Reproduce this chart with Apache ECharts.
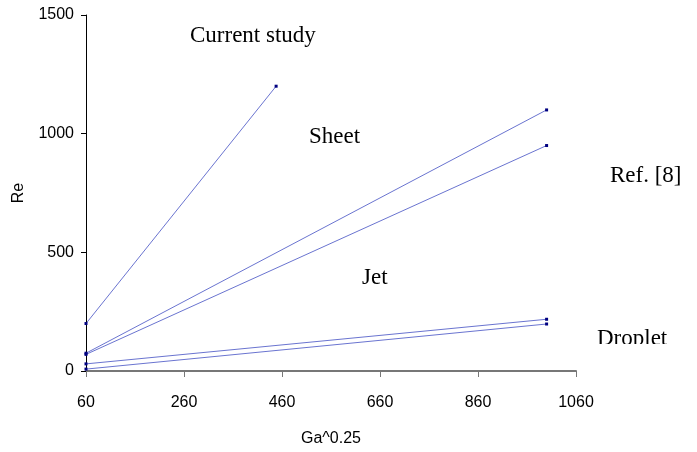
<!DOCTYPE html>
<html>
<head>
<meta charset="utf-8">
<script src="https://cdn.jsdelivr.net/npm/echarts@6/dist/echarts.min.js"></script>
<style>
  html, body { margin: 0; padding: 0; background: #fff; }
  #chart { width: 697px; height: 452px; }
</style>
</head>
<body>
<div id="chart"></div>
<script>
// Ga^0.25 end points of each line
var gaCurrent = [60, 448];
var gaRef = [60, 1000];

// Re values at those points
var reCurrent = [200, 1200];
var reSheetUpper = [75, 1100];
var reSheetLower = [70, 950];
var reDropUpper = [30, 218];
var reDropLower = [8, 198];

var xTicks = [60, 260, 460, 660, 860, 1060];
var yTicks = [0, 500, 1000, 1500];

function pairs(xs, ys) {
    var out = [];
    for (var i = 0; i < xs.length; i++) out.push([xs[i], ys[i]]);
    return out;
}

function lineSeries(xs, ys) {
    return {
        type: 'line',
        data: pairs(xs, ys),
        symbol: 'rect',
        symbolSize: 3,
        showSymbol: true,
        lineStyle: { color: '#6a74d0', width: 1 },
        itemStyle: { color: '#000080' },
        animation: false
    };
}

var serif = '"Liberation Serif", "DejaVu Serif", serif';
var sans = '"Liberation Sans", Arial, sans-serif';
var plain = function (v) { return String(v); };

var chart = echarts.init(document.getElementById('chart'));
chart.setOption({
    backgroundColor: '#fff',
    grid: { left: 86, right: 121, top: 15, bottom: 80 },
    xAxis: {
        type: 'value',
        min: xTicks[0],
        max: xTicks[xTicks.length - 1],
        interval: 200,
        name: 'Ga^0.25',
        nameLocation: 'middle',
        nameGap: 60,
        nameTextStyle: { fontFamily: sans, fontSize: 16, color: '#000' },
        axisLine: { onZero: false, lineStyle: { color: '#777', width: 2 } },
        axisTick: { show: true, length: 6, lineStyle: { color: '#777' } },
        axisLabel: { margin: 24, fontFamily: sans, fontSize: 16, color: '#000', formatter: plain },
        splitLine: { show: false }
    },
    yAxis: {
        type: 'value',
        min: yTicks[0],
        max: yTicks[yTicks.length - 1],
        interval: 500,
        name: 'Re',
        nameLocation: 'middle',
        nameGap: 59,
        nameRotate: 90,
        nameTextStyle: { fontFamily: sans, fontSize: 16, color: '#000' },
        axisLine: { show: true, lineStyle: { color: '#000', width: 1 } },
        axisTick: { show: true, length: 5, lineStyle: { color: '#000' } },
        axisLabel: { margin: 12, fontFamily: sans, fontSize: 16, color: '#000', formatter: plain },
        splitLine: { show: false }
    },
    series: [
        lineSeries(gaCurrent, reCurrent),
        lineSeries(gaRef, reSheetUpper),
        lineSeries(gaRef, reSheetLower),
        lineSeries(gaRef, reDropUpper),
        lineSeries(gaRef, reDropLower)
    ],
    graphic: [
        { type: 'text', left: 190, top: 24, style: { text: 'Current study', font: '23px ' + serif, fill: '#000' } },
        { type: 'text', left: 309, top: 125, style: { text: 'Sheet', font: '23px ' + serif, fill: '#000' } },
        { type: 'text', left: 610, top: 164, style: { text: 'Ref. [8]', font: '23px ' + serif, fill: '#000' } },
        { type: 'text', left: 362, top: 266, style: { text: 'Jet', font: '23px ' + serif, fill: '#000' } },
        { type: 'text', left: 597, top: 327, style: { text: 'Droplet', font: '23px ' + serif, fill: '#000' } },
        { type: 'rect', left: 590, top: 344, shape: { width: 95, height: 16 }, style: { fill: '#fff' }, z: 100 }
    ]
});
</script>
</body>
</html>
